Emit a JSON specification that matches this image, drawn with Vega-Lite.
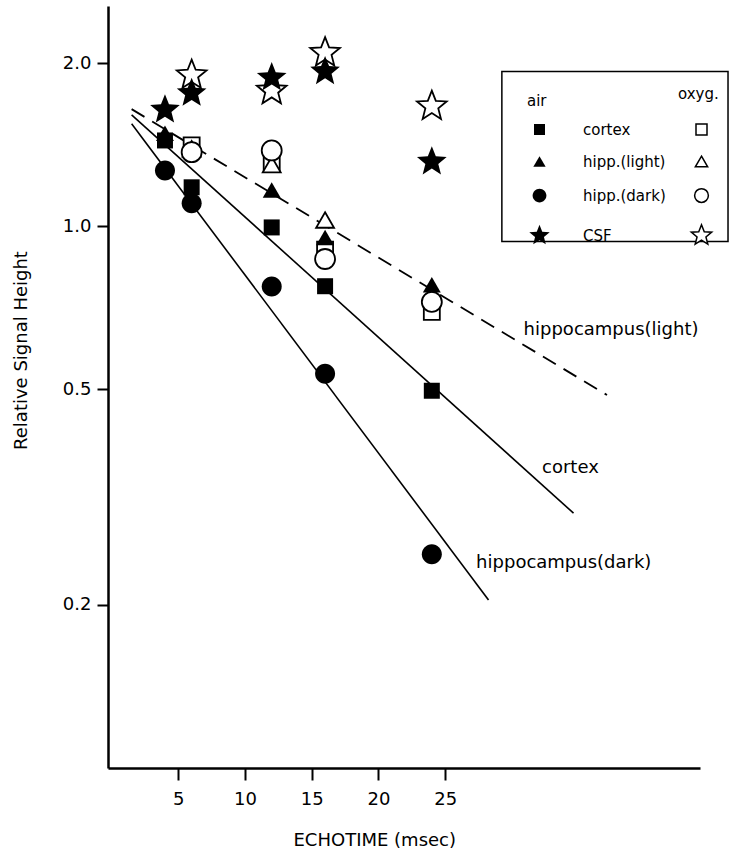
{
  "$schema": "https://vega.github.io/schema/vega-lite/v6.json",
  "autosize": {"type": "none"},
  "padding": {"left": 108, "top": 6, "right": 45, "bottom": 88},
  "width": 592,
  "height": 762,
  "background": "white",
  "datasets": {
    "points": [
      {"echotime": 4, "signal": 1.44, "tissue": "cortex", "gas": "air"},
      {"echotime": 6, "signal": 1.18, "tissue": "cortex", "gas": "air"},
      {"echotime": 12, "signal": 0.995, "tissue": "cortex", "gas": "air"},
      {"echotime": 16, "signal": 0.775, "tissue": "cortex", "gas": "air"},
      {"echotime": 24, "signal": 0.497, "tissue": "cortex", "gas": "air"},
      {"echotime": 4, "signal": 1.485, "tissue": "hipp.(light)", "gas": "air"},
      {"echotime": 12, "signal": 1.167, "tissue": "hipp.(light)", "gas": "air"},
      {"echotime": 16, "signal": 0.953, "tissue": "hipp.(light)", "gas": "air"},
      {"echotime": 24, "signal": 0.78, "tissue": "hipp.(light)", "gas": "air"},
      {"echotime": 4, "signal": 1.268, "tissue": "hipp.(dark)", "gas": "air"},
      {"echotime": 6, "signal": 1.103, "tissue": "hipp.(dark)", "gas": "air"},
      {"echotime": 12, "signal": 0.774, "tissue": "hipp.(dark)", "gas": "air"},
      {"echotime": 16, "signal": 0.534, "tissue": "hipp.(dark)", "gas": "air"},
      {"echotime": 24, "signal": 0.248, "tissue": "hipp.(dark)", "gas": "air"},
      {"echotime": 4, "signal": 1.64, "tissue": "CSF", "gas": "air"},
      {"echotime": 6, "signal": 1.76, "tissue": "CSF", "gas": "air"},
      {"echotime": 12, "signal": 1.88, "tissue": "CSF", "gas": "air"},
      {"echotime": 16, "signal": 1.93, "tissue": "CSF", "gas": "air"},
      {"echotime": 24, "signal": 1.315, "tissue": "CSF", "gas": "air"},
      {"echotime": 6, "signal": 1.41, "tissue": "cortex", "gas": "oxyg."},
      {"echotime": 12, "signal": 1.308, "tissue": "cortex", "gas": "oxyg."},
      {"echotime": 16, "signal": 0.905, "tissue": "cortex", "gas": "oxyg."},
      {"echotime": 24, "signal": 0.695, "tissue": "cortex", "gas": "oxyg."},
      {"echotime": 6, "signal": 1.39, "tissue": "hipp.(light)", "gas": "oxyg."},
      {"echotime": 12, "signal": 1.30, "tissue": "hipp.(light)", "gas": "oxyg."},
      {"echotime": 16, "signal": 1.027, "tissue": "hipp.(light)", "gas": "oxyg."},
      {"echotime": 24, "signal": 0.75, "tissue": "hipp.(light)", "gas": "oxyg."},
      {"echotime": 6, "signal": 1.37, "tissue": "hipp.(dark)", "gas": "oxyg."},
      {"echotime": 12, "signal": 1.38, "tissue": "hipp.(dark)", "gas": "oxyg."},
      {"echotime": 16, "signal": 0.87, "tissue": "hipp.(dark)", "gas": "oxyg."},
      {"echotime": 24, "signal": 0.725, "tissue": "hipp.(dark)", "gas": "oxyg."},
      {"echotime": 6, "signal": 1.90, "tissue": "CSF", "gas": "oxyg."},
      {"echotime": 12, "signal": 1.78, "tissue": "CSF", "gas": "oxyg."},
      {"echotime": 16, "signal": 2.09, "tissue": "CSF", "gas": "oxyg."},
      {"echotime": 24, "signal": 1.665, "tissue": "CSF", "gas": "oxyg."}
    ],
    "fits": [
      {"echotime": 1.5, "signal": 1.645, "tissue": "hipp.(light)"},
      {"echotime": 37.13, "signal": 0.488, "tissue": "hipp.(light)"},
      {"echotime": 1.5, "signal": 1.606, "tissue": "cortex"},
      {"echotime": 34.62, "signal": 0.2954, "tissue": "cortex"},
      {"echotime": 1.5, "signal": 1.546, "tissue": "hipp.(dark)"},
      {"echotime": 28.25, "signal": 0.2043, "tissue": "hipp.(dark)"}
    ],
    "labels": [
      {"echotime": 30.88, "signal": 0.644, "text": "hippocampus(light)"},
      {"echotime": 32.26, "signal": 0.3576, "text": "cortex"},
      {"echotime": 27.32, "signal": 0.2388, "text": "hippocampus(dark)"}
    ],
    "box": [
      {"left": 29.25, "right": 46.2, "top": 1.93, "bottom": 0.937}
    ]
  },
  "encoding": {
    "x": {"field": "echotime", "type": "quantitative",
      "scale": {"domain": [-0.27, 44.1], "nice": false, "zero": false},
      "axis": {"values": [5, 10, 15, 20, 25], "title": "ECHOTIME (msec)", "tickSize": 12, "labelPadding": 10,
        "titleX": 185, "titleY": 63, "titleAlign": "left", "titleBaseline": "top"}},
    "y": {"field": "signal", "type": "quantitative",
      "scale": {"type": "log", "domain": [0.1, 2.55], "nice": false},
      "axis": {"values": [0.2, 0.5, 1, 2], "format": ".1f", "title": "Relative Signal Height", "tickSize": 11, "labelPadding": 6,
        "titleX": -87, "titleY": 344, "titleAlign": "center", "titleBaseline": "middle", "titleAngle": -90}}
  },
  "layer": [
    {
      "data": {"name": "box"},
      "mark": {"type": "rect", "fill": "white", "fillOpacity": 0, "stroke": "black", "strokeWidth": 1.5},
      "encoding": {
        "x": {"field": "left", "type": "quantitative"},
        "x2": {"field": "right"},
        "y": {"field": "top", "type": "quantitative"},
        "y2": {"field": "bottom"}
      }
    },
    {
      "data": {"name": "fits"},
      "transform": [{"filter": "datum.tissue !== 'hipp.(light)'"}],
      "mark": {"type": "line", "color": "black", "strokeWidth": 1.6},
      "encoding": {"detail": {"field": "tissue"}}
    },
    {
      "data": {"name": "fits"},
      "transform": [{"filter": "datum.tissue === 'hipp.(light)'"}],
      "mark": {"type": "line", "color": "black", "strokeWidth": 1.8, "strokeDash": [15, 9]},
      "encoding": {}
    },
    {
      "data": {"name": "labels"},
      "mark": {"type": "text", "align": "left", "baseline": "middle", "fontSize": 18, "color": "black"},
      "encoding": {"text": {"field": "text"}}
    },
    {
      "data": {"name": "points"},
      "transform": [{"filter": "datum.gas === 'oxyg.'"}],
      "mark": {"type": "point", "filled": true, "fill": "white", "stroke": "black", "strokeWidth": 1.8, "size": 256, "opacity": 1},
      "encoding": {
        "shape": {"field": "tissue", "type": "nominal",
          "scale": {"domain": ["cortex", "hipp.(light)", "hipp.(dark)", "CSF"],
            "range": ["M-1,-1H1V1H-1Z", "M0,-0.97L1.12,0.97L-1.12,0.97Z", "M1.25,0A1.25,1.25,0,1,1,-1.25,0A1.25,1.25,0,1,1,1.25,0Z", "M0,-1.95L0.5,-0.688L1.855,-0.603L0.808,0.263L1.146,1.578L0,0.85L-1.146,1.578L-0.808,0.263L-1.855,-0.603L-0.5,-0.688Z"]},
          "legend": {"title": "oxyg.", "orient": "none", "legendX": 570, "legendY": 81,
            "labelExpr": "''", "symbolOffset": 16, "titlePadding": 20, "rowPadding": 15,
            "encode": {"symbols": {"update": {"fill": {"value": "white"}, "stroke": {"value": "black"}, "strokeWidth": {"value": 1.5}, "opacity": {"value": 1}}}}}}
      }
    },
    {
      "data": {"name": "points"},
      "transform": [{"filter": "datum.gas === 'air'"}],
      "mark": {"type": "point", "filled": true, "color": "black", "size": 256, "opacity": 1},
      "encoding": {
        "shape": {"field": "tissue", "type": "nominal",
          "scale": {"domain": ["cortex", "hipp.(light)", "hipp.(dark)", "CSF"],
            "range": ["M-1,-1H1V1H-1Z", "M0,-0.97L1.12,0.97L-1.12,0.97Z", "M1.25,0A1.25,1.25,0,1,1,-1.25,0A1.25,1.25,0,1,1,1.25,0Z", "M0,-1.95L0.5,-0.688L1.855,-0.603L0.808,0.263L1.146,1.578L0,0.85L-1.146,1.578L-0.808,0.263L-1.855,-0.603L-0.5,-0.688Z"]},
          "legend": {"title": "air", "orient": "none", "legendX": 419, "legendY": 88,
            "symbolOffset": 5, "labelOffset": 36, "titlePadding": 13, "rowPadding": 15,
            "encode": {"symbols": {"update": {"fill": {"value": "black"}, "stroke": {"value": "black"}, "strokeWidth": {"value": 1}, "opacity": {"value": 1}}}}}}
      }
    }
  ],
  "resolve": {"scale": {"shape": "independent"}, "legend": {"shape": "independent"}},
  "config": {
    "font": "DejaVu Sans",
    "view": {"stroke": null},
    "axis": {
      "grid": false,
      "domainColor": "black", "domainWidth": 2.5,
      "tickColor": "black", "tickWidth": 2,
      "labelColor": "black", "labelFontSize": 18, "labelFont": "DejaVu Sans",
      "titleColor": "black", "titleFontSize": 18, "titleFontWeight": "normal", "titleFont": "DejaVu Sans"
    },
    "legend": {
      "labelFontSize": 15, "titleFontSize": 15, "titleFontWeight": "normal",
      "labelColor": "black", "titleColor": "black", "symbolSize": 121,
      "labelFont": "DejaVu Sans", "titleFont": "DejaVu Sans", "padding": 0
    }
  }
}
